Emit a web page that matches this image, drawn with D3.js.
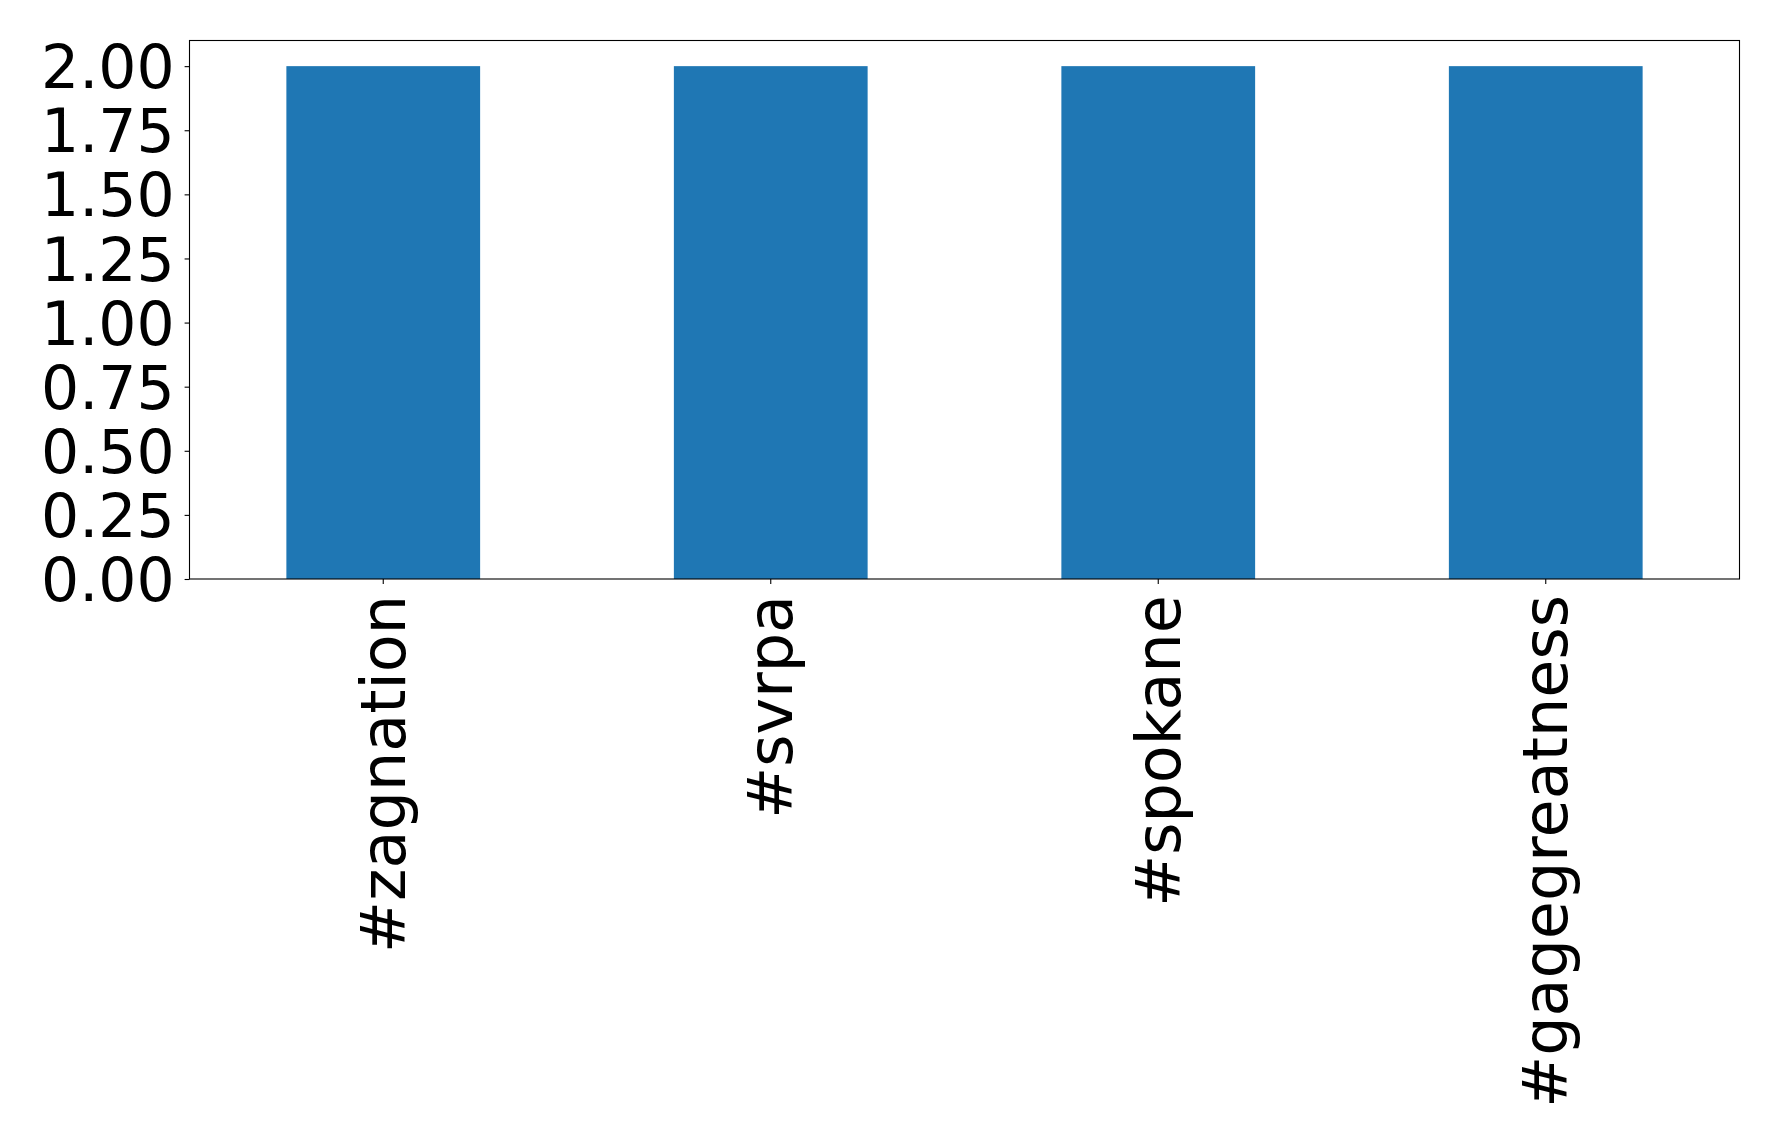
<!DOCTYPE html>
<html><head><meta charset="utf-8">
<script src="https://cdn.jsdelivr.net/npm/d3@7"></script>
<style>body{margin:0;background:#fff}svg{display:block}text{font-family:"DejaVu Sans",sans-serif}</style>
</head><body>
<script>
const categories = ["#zagnation", "#svrpa", "#spokane", "#gagegreatness"];
const values = [2, 2, 2, 2];
const yTicks = [0, 0.25, 0.5, 0.75, 1.0, 1.25, 1.5, 1.75, 2.0];

const W = 1778, H = 1145;
const m = {left: 189.5, right: 1739.5, top: 40.5, bottom: 579};
const svg = d3.select("body").append("svg").attr("width", W).attr("height", H);

const x = d3.scaleBand().domain(categories).range([m.left, m.right]).paddingInner(0.5).paddingOuter(0.25);
const y = d3.scaleLinear().domain([0, 2.1]).range([m.bottom, m.top]);

svg.append("g").selectAll("rect").data(categories).join("rect")
  .attr("x", d => x(d)).attr("width", x.bandwidth())
  .attr("y", (d, i) => y(values[i])).attr("height", (d, i) => y(0) - y(values[i]))
  .attr("fill", "#1f77b4");

const fs = 62;
const ya = svg.append("g").attr("transform", `translate(${m.left},0)`)
  .call(d3.axisLeft(y).tickValues(yTicks).tickFormat(d3.format(".2f")).tickSize(4.9).tickPadding(10));
ya.select(".domain").remove();
ya.selectAll("text").attr("font-size", 60).attr("fill", "#000").attr("dy", "0.36em");
ya.selectAll("line").attr("stroke", "#000").attr("stroke-width", 1.1);

const xa = svg.append("g").attr("transform", `translate(0,${m.bottom})`)
  .call(d3.axisBottom(x).tickSize(4.9).tickPadding(0));
xa.select(".domain").remove();
xa.selectAll("line").attr("stroke", "#000").attr("stroke-width", 1.1);
xa.selectAll("text").attr("font-size", fs).attr("fill", "#000")
  .attr("text-anchor", "end").attr("dy", null).attr("y", 0)
  .attr("transform", "translate(0,16) rotate(-90)")
  .attr("dominant-baseline", "central");

svg.append("rect").attr("x", m.left).attr("y", m.top)
  .attr("width", m.right - m.left).attr("height", m.bottom - m.top)
  .attr("fill", "none").attr("stroke", "#000").attr("stroke-width", 1.1);
</script>
</body></html>
